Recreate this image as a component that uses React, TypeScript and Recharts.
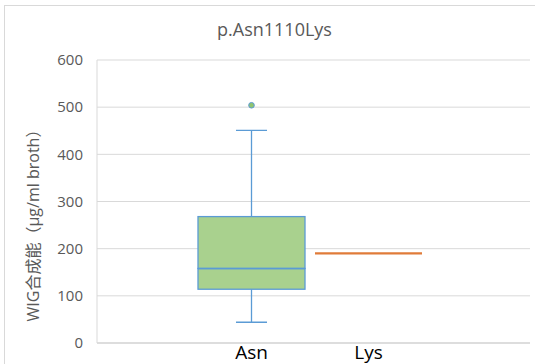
import { BarChart, Bar, XAxis, YAxis, CartesianGrid } from "recharts";

const categories = ["Asn", "Lys"];
const minValues = [44, 190];
const q1Values = [114, 190];
const medianValues = [158, 190];
const q3Values = [268, 190];
const maxValues = [451, 190];
const outlierValues: (number | null)[] = [504, null];
const yTicks = [0, 100, 200, 300, 400, 500, 600];

const boxFill = ["#a9d18e", "none"];
const boxStroke = ["#5b9bd5", "#e07b39"];

const font = "'Open Sans', 'Noto Sans CJK SC', sans-serif";
const gray = "#595959";
const grid = "#d9d9d9";

const data = categories.map((name, i) => ({
  name,
  idx: i,
  base: minValues[i],
  lowWhisker: q1Values[i] - minValues[i],
  lowBox: medianValues[i] - q1Values[i],
  highBox: q3Values[i] - medianValues[i],
  highWhisker: maxValues[i] - q3Values[i],
  outlierGap: outlierValues[i] != null ? (outlierValues[i] as number) - maxValues[i] : 0,
}));

const Empty = () => <g />;

const LowWhisker = (p: any) => {
  const i = p.payload.idx;
  if (!p.height) return <g />;
  const cx = p.x + p.width / 2;
  const cap = p.width * 0.145;
  return (
    <g stroke={boxStroke[i]} strokeWidth={1.3}>
      <line x1={cx} x2={cx} y1={p.y} y2={p.y + p.height} />
      <line x1={cx - cap} x2={cx + cap} y1={p.y + p.height} y2={p.y + p.height} />
    </g>
  );
};

const HighWhisker = (p: any) => {
  const i = p.payload.idx;
  if (!p.height) return <g />;
  const cx = p.x + p.width / 2;
  const cap = p.width * 0.145;
  return (
    <g stroke={boxStroke[i]} strokeWidth={1.3}>
      <line x1={cx} x2={cx} y1={p.y} y2={p.y + p.height} />
      <line x1={cx - cap} x2={cx + cap} y1={p.y} y2={p.y} />
    </g>
  );
};

const LowBox = (p: any) => {
  const i = p.payload.idx;
  if (!p.height) return <g />;
  return (
    <rect x={p.x} y={p.y} width={p.width} height={p.height} fill={boxFill[i]} stroke={boxStroke[i]} strokeWidth={1.3} />
  );
};

const HighBox = (p: any) => {
  const i = p.payload.idx;
  const bottom = p.y + p.height;
  return (
    <g>
      {p.height ? (
        <rect x={p.x} y={p.y} width={p.width} height={p.height} fill={boxFill[i]} stroke={boxStroke[i]} strokeWidth={1.3} />
      ) : null}
      <line
        x1={p.x}
        x2={p.x + p.width}
        y1={bottom}
        y2={bottom}
        stroke={boxStroke[i]}
        strokeWidth={p.height ? 1.3 : 2.2}
      />
    </g>
  );
};

const Outlier = (p: any) => {
  if (!p.height) return <g />;
  return <circle cx={p.x + p.width / 2} cy={p.y} r={2.8} fill="#8fc46f" stroke="#5b9bd5" strokeWidth={1} />;
};

const XTick = (p: any) => (
  <text x={p.x} y={p.y} dy={16} textAnchor="middle" fontFamily={font} fontSize={19} fill="#000">
    {p.payload.value}
  </text>
);

const YLabel = (p: any) => {
  const vb = p.viewBox;
  const x = vb.x + 33;
  const y = vb.y + vb.height / 2 + 20;
  return (
    <text x={x} y={y} transform={`rotate(-90 ${x} ${y})`} textAnchor="middle" dominantBaseline="central" fontFamily={font} fontSize={16} fill={gray}>
      WIG合成能（μg/ml broth）
    </text>
  );
};

export default function App() {
  return (
    <div style={{ position: "absolute", left: 0, top: 0, width: 535, height: 364, overflow: "hidden", background: "#fff" }}>
      <div style={{ position: "absolute", left: 4, top: 5, width: 600, height: 400, border: `1px solid ${grid}` }} />
      <div
        style={{
          position: "absolute",
          left: 0,
          width: 549,
          top: 17,
          textAlign: "center",
          fontFamily: font,
          fontSize: 18,
          color: gray,
          lineHeight: "24px",
        }}
      >
        p.Asn1110Lys
      </div>
      <div style={{ position: "absolute", left: 0, top: 0 }}>
        <BarChart width={535} height={364} data={data} margin={{ top: 60, right: 5, left: 0, bottom: 0 }}>
          <CartesianGrid vertical={false} stroke={grid} strokeWidth={1} />
          <XAxis
            dataKey="name"
            height={21}
            padding={{ left: 96, right: 103 }}
            tickLine={false}
            tickSize={0}
            tickMargin={0}
            axisLine={{ stroke: grid, strokeWidth: 1.5 }}
            tick={<XTick />}
            interval={0}
          />
          <YAxis
            width={97}
            domain={[0, 600]}
            ticks={yTicks}
            tickLine={false}
            tickSize={0}
            tickMargin={14}
            axisLine={{ stroke: grid }}
            tick={{ fontFamily: font, fontSize: 15, fill: gray }}
            label={<YLabel />}
          />
          <Bar dataKey="base" stackId="box" barSize={107} shape={<Empty />} isAnimationActive={false} />
          <Bar dataKey="lowWhisker" stackId="box" barSize={107} shape={<LowWhisker />} isAnimationActive={false} />
          <Bar dataKey="lowBox" stackId="box" barSize={107} shape={<LowBox />} isAnimationActive={false} />
          <Bar dataKey="highBox" stackId="box" barSize={107} shape={<HighBox />} isAnimationActive={false} />
          <Bar dataKey="highWhisker" stackId="box" barSize={107} shape={<HighWhisker />} isAnimationActive={false} />
          <Bar dataKey="outlierGap" stackId="box" barSize={107} shape={<Outlier />} isAnimationActive={false} />
        </BarChart>
      </div>
    </div>
  );
}
